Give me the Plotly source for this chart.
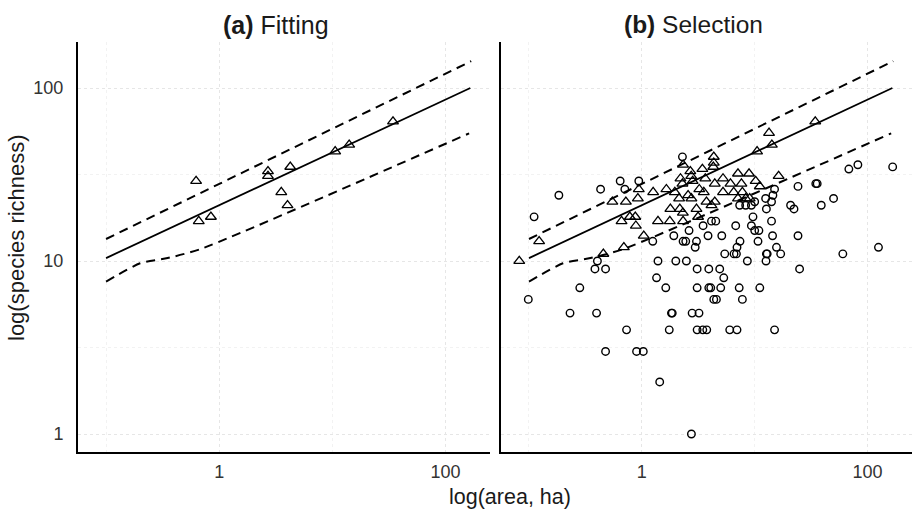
import plotly.graph_objects as go

# ---------------- data ----------------
# (a) Fitting: sites used to fit the species-area relationship
fit_area = [0.625, 0.66, 0.845, 2.70, 2.70, 4.25, 3.54, 4.02, 10.6, 14.1, 34.4]
fit_rich = [29, 17, 18, 33, 31, 35, 25, 21, 43, 47, 64]

# fitted line and prediction limits
line_area = [0.1, 166]
line_rich = [10.4, 100]
upper_area = [0.1, 169]
upper_rich = [13.4, 143]
lower_area = [0.1, 0.2, 0.35, 0.68, 162]
lower_rich = [7.6, 9.7, 10.4, 11.7, 54.7]

# (b) Selection: triangles (selected) and circles (other sites)
sel_tri_area = [0.082, 0.123, 0.456, 0.693, 1.04, 0.548, 0.722, 0.922, 0.94, 1.26,
                1.65, 1.96, 2.32, 2.69, 3.44, 4.34, 4.34, 4.30, 2.74, 2.20,
                2.82, 3.65, 4.43, 5.24, 7.11, 8.91, 10.2, 11.1, 16.3, 2.29,
                3.23, 3.54, 6.10, 7.63, 7.78, 6.52, 5.24, 2.57, 2.75, 2.14,
                7.11, 8.32, 9.03, 3.74, 4.14, 4.43, 1.79, 2.17, 2.31, 3.05,
                3.15, 1.39, 1.77, 2.32, 0.661, 0.783, 0.875, 0.885, 13.4, 14.2,
                10.5, 34.4]
sel_tri_rich = [10, 13, 11, 12, 14, 22, 22, 23, 26, 25,
                26, 25, 36, 33, 34, 40, 37, 35, 31, 30,
                29, 30, 28, 30, 32, 32, 29, 27, 31, 28,
                26, 25, 28, 28, 25, 25, 25, 24, 23, 23,
                23, 23, 23, 22, 21, 22, 20, 20, 19, 20,
                18, 17, 17, 17, 17, 18, 18, 16, 55, 47,
                43, 64]

sel_circ_area = [2.29, 0.643, 0.94, 0.431, 0.707, 0.184, 0.111, 15.0, 14.5, 14.1,
                 12.5, 10.0, 7.36, 8.32, 9.35, 12.7, 9.66, 6.79, 9.35, 10.0,
                 10.9, 14.1, 14.4, 10.7, 7.41, 6.97, 5.11, 3.86, 3.49, 4.14,
                 4.52, 2.62, 1.92, 2.32, 2.45, 3.05, 2.97, 1.25, 5.43, 6.56,
                 6.89, 12.7, 12.9, 17.0, 20.8, 22.3, 24.2, 34.8, 35.8, 38.9,
                 50.0, 68.3, 82.1, 167, 24.2, 125, 60.4, 15.6, 25.0, 1.39,
                 2.0, 2.48, 8.61, 12.6, 3.09, 3.92, 4.90, 1.35, 5.32, 1.63,
                 3.09, 3.92, 4.08, 5.0, 7.29, 11.1, 4.34, 4.58, 7.78, 1.83,
                 1.86, 2.79, 3.21, 1.75, 3.09, 3.47, 3.76, 6.01, 6.97, 15.0,
                 1.03, 0.898, 0.477, 0.732, 0.231, 0.397, 0.0986, 0.282, 0.404, 0.384,
                 0.477, 1.44, 2.75]
sel_circ_rich = [40, 29, 29, 26, 26, 24, 18, 26, 24, 22,
                 23, 22, 21, 21, 21, 20, 18, 16, 16, 15,
                 15, 17, 14, 13, 13, 12, 14, 14, 16, 17,
                 17, 15, 14, 13, 13, 13, 12, 13, 11, 11,
                 11, 11, 11, 11, 21, 20, 27, 28, 28, 21,
                 23, 34, 36, 35, 14, 12, 11, 12, 9, 10,
                 10, 10, 10, 10, 9, 9, 9, 8, 8, 7,
                 7, 7, 7, 7, 7, 7, 6, 6, 6, 5,
                 5, 5, 5, 4, 4, 4, 4, 4, 4, 4,
                 3, 3, 3, 4, 5, 5, 6, 7, 10, 9,
                 9, 2, 1]

x_ticks = [1, 100]
x_minor = [0.1, 10]
y_ticks = [1, 10, 100]
y_minor = [3.1623, 31.623]

# ---------------- figure ----------------
W, H = 913, 509
FONT = "Liberation Sans, Arial, Helvetica, sans-serif"
fig = go.Figure()

def add_lines(xa, ya):
    dash = "9px,6px"
    fig.add_trace(go.Scatter(x=lower_area, y=lower_rich, mode="lines", xaxis=xa, yaxis=ya,
                             line=dict(color="black", width=2, dash=dash, shape="spline", smoothing=0.6),
                             hoverinfo="skip", showlegend=False))
    fig.add_trace(go.Scatter(x=upper_area, y=upper_rich, mode="lines", xaxis=xa, yaxis=ya,
                             line=dict(color="black", width=2, dash=dash),
                             hoverinfo="skip", showlegend=False))
    fig.add_trace(go.Scatter(x=line_area, y=line_rich, mode="lines", xaxis=xa, yaxis=ya,
                             line=dict(color="black", width=1.8),
                             hoverinfo="skip", showlegend=False))

tri = dict(symbol="triangle-up-open", size=9.5, color="black", line=dict(width=1.3, color="black"))
circ = dict(symbol="circle-open", size=7.5, color="black", line=dict(width=1.4, color="black"))

# panel a
add_lines("x", "y")
fig.add_trace(go.Scatter(x=fit_area, y=fit_rich, mode="markers", xaxis="x", yaxis="y",
                         marker=tri, showlegend=False))
# panel b
add_lines("x2", "y2")
fig.add_trace(go.Scatter(x=sel_circ_area, y=sel_circ_rich, mode="markers", xaxis="x2", yaxis="y2",
                         marker=circ, showlegend=False))
fig.add_trace(go.Scatter(x=sel_tri_area, y=sel_tri_rich, mode="markers", xaxis="x2", yaxis="y2",
                         marker=tri, showlegend=False))

grid_major = "#e6e6e6"
grid_minor = "#f2f2f2"

def xaxis(dom):
    return dict(type="log", domain=dom, range=[-1.248, 2.394],
                tickmode="array", tickvals=x_ticks, ticktext=[str(v) for v in x_ticks],
                showgrid=True, gridcolor=grid_major, griddash="3px,3px", gridwidth=1,
                minor=dict(tickmode="array", tickvals=x_minor, showgrid=True,
                           gridcolor=grid_minor, griddash="3px,3px", gridwidth=1),
                showline=True, linecolor="black", linewidth=2, mirror=False, zeroline=False,
                ticks="outside", ticklen=2, tickcolor="rgba(0,0,0,0)",
                tickfont=dict(family=FONT, size=18, color="#333333"), anchor=None)

def yaxis(anchor, labels):
    return dict(type="log", domain=[1 - 452 / H, 1 - 42 / H], range=[-0.104, 2.266],
                tickmode="array", tickvals=y_ticks, ticktext=[str(v) for v in y_ticks],
                showticklabels=labels,
                showgrid=True, gridcolor=grid_major, griddash="3px,3px", gridwidth=1,
                minor=dict(tickmode="array", tickvals=y_minor, showgrid=True,
                           gridcolor=grid_minor, griddash="3px,3px", gridwidth=1),
                showline=True, linecolor="black", linewidth=2, mirror=False, zeroline=False,
                ticks="outside", ticklen=9, tickcolor="rgba(0,0,0,0)",
                tickfont=dict(family=FONT, size=18, color="#333333"), anchor=anchor)

xa = xaxis([78 / W, 490 / W]); xa["anchor"] = "y"
xb = xaxis([501 / W, 912 / W]); xb["anchor"] = "y2"

fig.update_layout(
    width=W, height=H,
    margin=dict(l=0, r=0, t=0, b=0),
    paper_bgcolor="white", plot_bgcolor="white",
    font=dict(family=FONT, color="#1a1a1a"),
    xaxis=xa, xaxis2=xb,
    yaxis=yaxis("x", True), yaxis2=yaxis("x2", False),
    annotations=[
        dict(text="<b>(a)</b> Fitting", x=276 / W, y=1 - 25 / H, xref="paper", yref="paper",
             xanchor="center", yanchor="middle", showarrow=False,
             font=dict(family=FONT, size=25, color="#1a1a1a")),
        dict(text="<b>(b)</b> Selection", x=693.5 / W, y=1 - 25 / H, xref="paper", yref="paper",
             xanchor="center", yanchor="middle", showarrow=False,
             font=dict(family=FONT, size=24.5, color="#1a1a1a")),
        dict(text="log(area, ha)", x=510 / W, y=1 - 497 / H, xref="paper", yref="paper",
             xanchor="center", yanchor="middle", showarrow=False,
             font=dict(family=FONT, size=21.5, color="#1a1a1a")),
        dict(text="log(species richness)", x=16 / W, y=1 - 238 / H, xref="paper", yref="paper",
             xanchor="center", yanchor="middle", showarrow=False, textangle=-90,
             font=dict(family=FONT, size=22, color="#1a1a1a")),
    ],
)

fig.write_html("out.html")
